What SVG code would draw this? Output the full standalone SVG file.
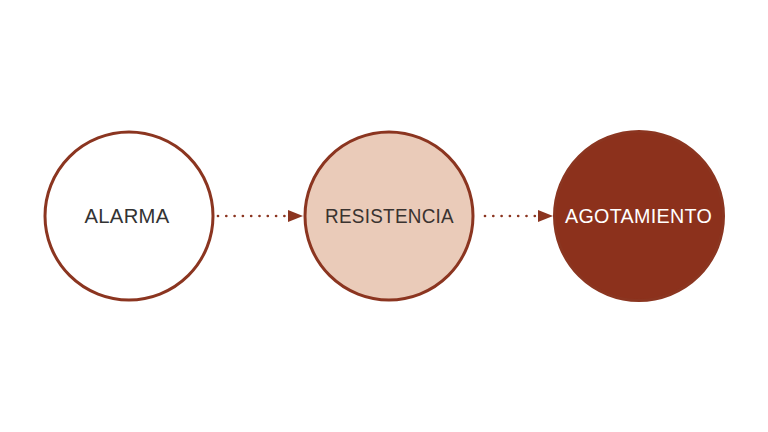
<svg xmlns="http://www.w3.org/2000/svg" width="768" height="432" viewBox="0 0 768 432">
<style>
.node{stroke:#8B3520;stroke-width:3}
.lbl{font-family:"Liberation Sans",Arial,sans-serif;font-size:19.5px;text-anchor:middle;letter-spacing:0.3px}
.dots{stroke:#8B3520;stroke-width:2.7;stroke-linecap:round;stroke-dasharray:0 8.3;fill:none}
.head{fill:#8B3520}
</style>
<rect width="768" height="432" fill="#ffffff"/>
<g id="connectors">
<line class="dots" x1="218" y1="216" x2="285" y2="216"/>
<polygon class="head" points="288,210 303,216 288,222"/>
<line class="dots" x1="485" y1="216" x2="535" y2="216"/>
<polygon class="head" points="538,210 553,216 538,222"/>
</g>
<g id="alarma">
<circle class="node" cx="129" cy="216" r="84" fill="#ffffff"/>
<text class="lbl" x="127" y="222.5" fill="#333333" textLength="85" lengthAdjust="spacingAndGlyphs">ALARMA</text>
</g>
<g id="resistencia">
<circle class="node" cx="389" cy="216" r="84" fill="#EACBB9"/>
<text class="lbl" x="389.5" y="222.5" fill="#3a3330" textLength="129" lengthAdjust="spacingAndGlyphs">RESISTENCIA</text>
</g>
<g id="agotamiento">
<circle class="node" cx="639" cy="216" r="84.5" fill="#8C311C"/>
<text class="lbl" x="638.5" y="222.5" fill="#ffffff" textLength="147" lengthAdjust="spacingAndGlyphs">AGOTAMIENTO</text>
</g>
</svg>
